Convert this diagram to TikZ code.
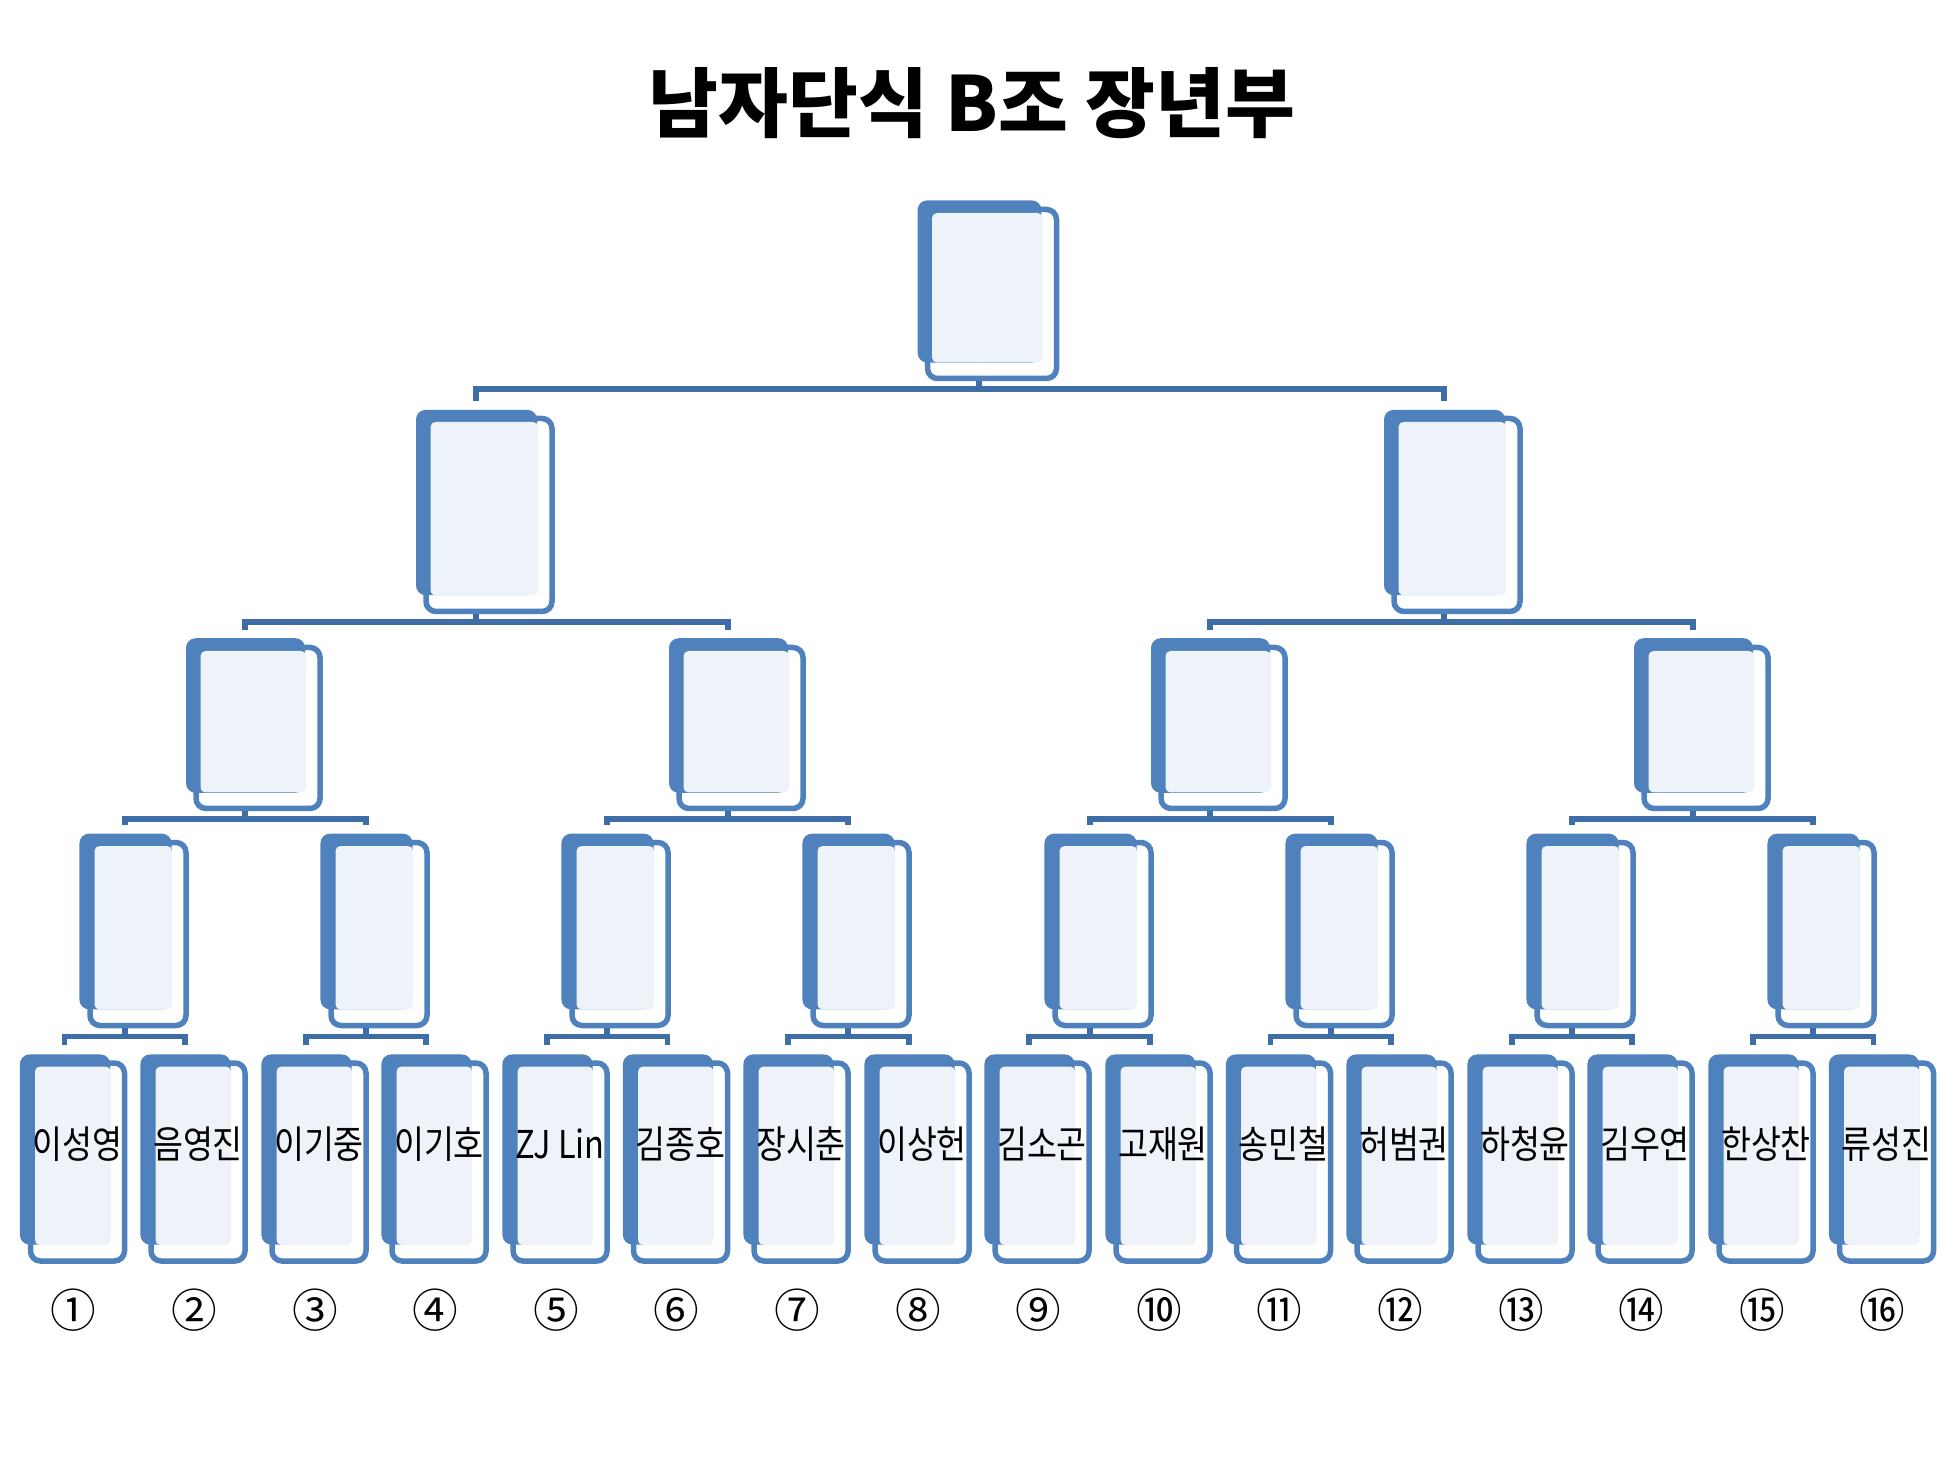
\documentclass[tikz,border=0pt]{standalone}
\usepackage{fontspec}
\setmainfont{Noto Sans CJK KR}
\newfontfamily\namefont[FakeStretch=0.85]{Noto Sans CJK KR}
\usetikzlibrary{shadows}
\definecolor{cardblue}{HTML}{4F81BD}
\definecolor{cardlight}{HTML}{EEF3FA}
\definecolor{linkblue}{HTML}{3F6DA8}
\tikzset{every picture/.style={line width=0.5mm}}
\tikzset{
	card/.style={draw=cardblue, line width=0.55mm, rounded corners=1mm, inner sep=0pt,
		general shadow={draw=none, fill=cardblue, shadow scale=0.96, shadow xshift=-1.3mm, shadow yshift=1.3mm},
		path picture={\fill[cardlight, rounded corners=0.5mm]
			([shift={(0.45mm,-0.35mm)}]path picture bounding box.north west) rectangle
			([shift={(-1.4mm,1.6mm)}]path picture bounding box.south east);}},
	topcard/.style={card, minimum width=12.9mm, minimum height=16.9mm},
	semicard/.style={card, minimum width=12.6mm, minimum height=19.3mm},
	quartercard/.style={card, minimum width=12.4mm, minimum height=16.1mm},
	eighthcard/.style={card, minimum width=9.6mm, minimum height=18.3mm},
	playercard/.style={card, minimum width=9.4mm, minimum height=19.8mm,
		font={\fontsize{10.9pt}{13pt}\namefont}, text height=2.8mm, text depth=3.6mm},
	link/.style={draw=linkblue, line width=0.55mm},
	num/.style={font=\fontsize{13pt}{15pt}\selectfont},
	title/.style={font=\fontsize{21.6pt}{26pt}\selectfont\bfseries}
}
\begin{document}
\begin{tikzpicture}[x=0.1mm,y=-0.1mm]
	\useasboundingbox (0,0) rectangle (1958,1460);
	%Tieu de
	\node[title] (title) at (972,103) {남자단식 B조 장년부};
	%Chung ket
	\node[topcard] (r) at (992,294) {};
	%Ban ket
	\node[semicard] (s1) at (489,515) {};
	\node[semicard] (s2) at (1457,515) {};
	%Tu ket
	\node[quartercard] (q1) at (258,728) {};
	\node[quartercard] (q2) at (741,728) {};
	\node[quartercard] (q3) at (1223,728) {};
	\node[quartercard] (q4) at (1706,728) {};
	%Vong 16
	\node[eighthcard] (e1) at (138,934) {};
	\node[eighthcard] (e2) at (379,934) {};
	\node[eighthcard] (e3) at (620,934) {};
	\node[eighthcard] (e4) at (861,934) {};
	\node[eighthcard] (e5) at (1103,934) {};
	\node[eighthcard] (e6) at (1344,934) {};
	\node[eighthcard] (e7) at (1585,934) {};
	\node[eighthcard] (e8) at (1826,934) {};
	%Van dong vien
	\node[playercard] (p1) at (77.5,1162) {이성영};
	\node[playercard] (p2) at (198,1162) {음영진};
	\node[playercard] (p3) at (319,1162) {이기중};
	\node[playercard] (p4) at (439,1162) {이기호};
	\node[playercard] (p5) at (560,1162) {ZJ Lin};
	\node[playercard] (p6) at (680.5,1162) {김종호};
	\node[playercard] (p7) at (801,1162) {장시춘};
	\node[playercard] (p8) at (922,1162) {이상헌};
	\node[playercard] (p9) at (1042,1162) {김소곤};
	\node[playercard] (p10) at (1163,1162) {고재원};
	\node[playercard] (p11) at (1283.5,1162) {송민철};
	\node[playercard] (p12) at (1404,1162) {허범권};
	\node[playercard] (p13) at (1525,1162) {하청윤};
	\node[playercard] (p14) at (1645,1162) {김우연};
	\node[playercard] (p15) at (1766,1162) {한상찬};
	\node[playercard] (p16) at (1886.5,1162) {류성진};
	%So thu tu
	\node[num] (n1) at (73.5,1310) {①};
	\node[num] (n2) at (194,1310) {②};
	\node[num] (n3) at (315,1310) {③};
	\node[num] (n4) at (435,1310) {④};
	\node[num] (n5) at (556,1310) {⑤};
	\node[num] (n6) at (676.5,1310) {⑥};
	\node[num] (n7) at (797,1310) {⑦};
	\node[num] (n8) at (918,1310) {⑧};
	\node[num] (n9) at (1038,1310) {⑨};
	\node[num] (n10) at (1159,1310) {⑩};
	\node[num] (n11) at (1279.5,1310) {⑪};
	\node[num] (n12) at (1400,1310) {⑫};
	\node[num] (n13) at (1521,1310) {⑬};
	\node[num] (n14) at (1641,1310) {⑭};
	\node[num] (n15) at (1762,1310) {⑮};
	\node[num] (n16) at (1882.5,1310) {⑯};
	%Duong noi chung ket
	\draw[link] ([shift={(-13,-15)}]s1.north) |- ([shift={(-13,8)}]r.south) -| ([shift={(-13,-15)}]s2.north) ([xshift=-1.3mm]r.south) -- ++(0,8);
	%Duong noi ban ket
	\draw[link] ([shift={(-13,-15)}]q1.north) |- ([shift={(-13,8)}]s1.south) -| ([shift={(-13,-15)}]q2.north) ([xshift=-1.3mm]s1.south) -- ++(0,8);
	\draw[link] ([shift={(-13,-15)}]q3.north) |- ([shift={(-13,8)}]s2.south) -| ([shift={(-13,-15)}]q4.north) ([xshift=-1.3mm]s2.south) -- ++(0,8);
	%Duong noi tu ket
	\draw[link] ([shift={(-13,-15)}]e1.north) |- ([shift={(-13,8)}]q1.south) -| ([shift={(-13,-15)}]e2.north) ([xshift=-1.3mm]q1.south) -- ++(0,8);
	\draw[link] ([shift={(-13,-15)}]e3.north) |- ([shift={(-13,8)}]q2.south) -| ([shift={(-13,-15)}]e4.north) ([xshift=-1.3mm]q2.south) -- ++(0,8);
	\draw[link] ([shift={(-13,-15)}]e5.north) |- ([shift={(-13,8)}]q3.south) -| ([shift={(-13,-15)}]e6.north) ([xshift=-1.3mm]q3.south) -- ++(0,8);
	\draw[link] ([shift={(-13,-15)}]e7.north) |- ([shift={(-13,8)}]q4.south) -| ([shift={(-13,-15)}]e8.north) ([xshift=-1.3mm]q4.south) -- ++(0,8);
	%Duong noi vong 16
	\draw[link] ([shift={(-13,-15)}]p1.north) |- ([shift={(-13,8)}]e1.south) -| ([shift={(-13,-15)}]p2.north) ([xshift=-1.3mm]e1.south) -- ++(0,8);
	\draw[link] ([shift={(-13,-15)}]p3.north) |- ([shift={(-13,8)}]e2.south) -| ([shift={(-13,-15)}]p4.north) ([xshift=-1.3mm]e2.south) -- ++(0,8);
	\draw[link] ([shift={(-13,-15)}]p5.north) |- ([shift={(-13,8)}]e3.south) -| ([shift={(-13,-15)}]p6.north) ([xshift=-1.3mm]e3.south) -- ++(0,8);
	\draw[link] ([shift={(-13,-15)}]p7.north) |- ([shift={(-13,8)}]e4.south) -| ([shift={(-13,-15)}]p8.north) ([xshift=-1.3mm]e4.south) -- ++(0,8);
	\draw[link] ([shift={(-13,-15)}]p9.north) |- ([shift={(-13,8)}]e5.south) -| ([shift={(-13,-15)}]p10.north) ([xshift=-1.3mm]e5.south) -- ++(0,8);
	\draw[link] ([shift={(-13,-15)}]p11.north) |- ([shift={(-13,8)}]e6.south) -| ([shift={(-13,-15)}]p12.north) ([xshift=-1.3mm]e6.south) -- ++(0,8);
	\draw[link] ([shift={(-13,-15)}]p13.north) |- ([shift={(-13,8)}]e7.south) -| ([shift={(-13,-15)}]p14.north) ([xshift=-1.3mm]e7.south) -- ++(0,8);
	\draw[link] ([shift={(-13,-15)}]p15.north) |- ([shift={(-13,8)}]e8.south) -| ([shift={(-13,-15)}]p16.north) ([xshift=-1.3mm]e8.south) -- ++(0,8);
\end{tikzpicture}
\end{document}
